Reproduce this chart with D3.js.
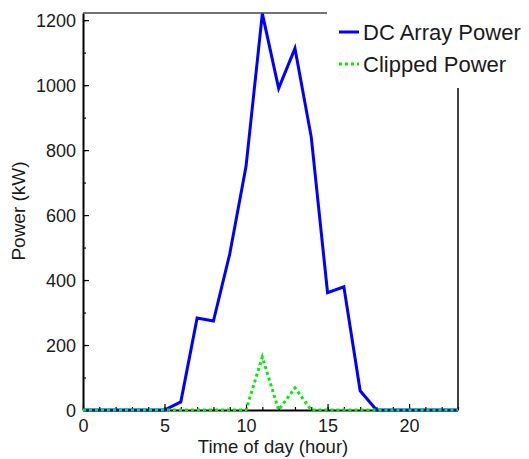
<!DOCTYPE html>
<html>
<head>
<meta charset="utf-8">
<script src="https://cdn.jsdelivr.net/npm/d3@7"></script>
<style>
  body { margin: 0; background: #fff; }
  text { font-family: "Liberation Sans", Arial, sans-serif; fill: #1a1a1a; }
</style>
</head>
<body>
<div id="chart"></div>
<script>

// hours of the day
var hours = d3.range(0, 24);

// series values (kW)
var dcPower = [0, 0, 0, 0, 0, 0, 25, 283, 274, 480, 750, 1220,
               990, 1113, 840, 361, 379, 59, 0, 0, 0, 0, 0, 0];
var clipped = [0, 0, 0, 0, 0, 0, 0, 0, 0, 0, 0, 163,
               0, 68, 0, 0, 0, 0, 0, 0, 0, 0, 0, 0];

var seriesNames = ["DC Array Power", "Clipped Power"];
var xTicks = [0, 5, 10, 15, 20];
var yTicks = [0, 200, 400, 600, 800, 1000, 1200];

// set the dimensions and margins of the graph
var margin = {top: 13, right: 71, bottom: 49, left: 83},
    width = 529 - margin.left - margin.right,
    height = 459 - margin.top - margin.bottom;

var svg = d3.select("#chart")
  .append("svg")
    .attr("width", 529)
    .attr("height", 459);

var g = svg.append("g")
    .attr("transform", "translate(" + margin.left + "," + margin.top + ")");

var x = d3.scaleLinear().domain([0, 23]).range([0, width]);
var y = d3.scaleLinear().domain([0, 1222]).range([height, 0]);

// minor ticks (inward)
g.append("g")
  .attr("transform", "translate(0," + height + ")")
  .call(d3.axisTop(x).tickValues(d3.range(0, 24)).tickSize(3).tickFormat(""))
  .call(function(s) { s.select(".domain").remove(); });
g.append("g")
  .call(d3.axisRight(y).tickValues(d3.range(0, 1201, 100)).tickSize(3).tickFormat(""))
  .call(function(s) { s.select(".domain").remove(); });

// major ticks, labels drawn outside
var xAxis = g.append("g")
  .attr("transform", "translate(0," + height + ")")
  .call(d3.axisBottom(x).tickValues(xTicks).tickFormat(d3.format("d"))
    .tickSizeInner(-6).tickSizeOuter(0).tickPadding(9));
xAxis.selectAll("text").style("font-size", "18px").attr("dy", "0.71em");

var yAxis = g.append("g")
  .call(d3.axisLeft(y).tickValues(yTicks).tickFormat(d3.format("d"))
    .tickSizeInner(-6).tickSizeOuter(0).tickPadding(7));
yAxis.selectAll("text").style("font-size", "18px").attr("dy", "0.35em");

g.selectAll(".domain").attr("stroke", "#000").attr("stroke-width", 2);
g.selectAll(".tick line").attr("stroke", "#000").attr("stroke-width", 1.2);

// top and right frame
g.append("line")
  .attr("x1", 0).attr("x2", width).attr("y1", 0).attr("y2", 0)
  .attr("stroke", "#444").attr("stroke-width", 1.5);
g.append("line")
  .attr("x1", width).attr("x2", width).attr("y1", 0).attr("y2", height)
  .attr("stroke", "#000").attr("stroke-width", 1.5);

// lines
var line = d3.line()
  .x(function(d, i) { return x(hours[i]); })
  .y(function(d) { return y(d); });

g.append("path")
  .datum(dcPower)
  .attr("fill", "none")
  .attr("stroke", "#0000ff")
  .attr("stroke-width", 3)
  .attr("d", line);

g.append("path")
  .datum(clipped)
  .attr("fill", "none")
  .attr("stroke", "#00ee00")
  .attr("stroke-width", 3)
  .attr("stroke-dasharray", "3,3")
  .attr("d", line);

// legend box (covers part of the frame)
var legend = svg.append("g");
legend.append("rect")
  .attr("x", 327).attr("y", 0).attr("width", 202).attr("height", 88)
  .attr("fill", "#fff");

var legendItems = legend.selectAll(".item")
  .data(seriesNames)
  .enter().append("g")
  .attr("transform", function(d, i) { return "translate(339," + (32 + i * 32) + ")"; });

legendItems.append("line")
  .attr("x1", 0).attr("x2", 20).attr("y1", 0).attr("y2", 0)
  .attr("stroke", function(d, i) { return i == 0 ? "#0000ff" : "#00ee00"; })
  .attr("stroke-width", 3)
  .attr("stroke-dasharray", function(d, i) { return i == 0 ? null : "3,3"; });

legendItems.append("text")
  .attr("x", 24).attr("y", 0).attr("dy", "0.35em")
  .style("font-size", "22px")
  .text(function(d) { return d; });

// axis titles
svg.append("text")
  .attr("x", 273)
  .attr("y", 453)
  .attr("text-anchor", "middle")
  .style("font-size", "18.5px")
  .text("Time of day (hour)");

svg.append("text")
  .attr("transform", "translate(25,211) rotate(-90)")
  .attr("text-anchor", "middle")
  .style("font-size", "19px")
  .text("Power (kW)");

</script>
</body>
</html>
